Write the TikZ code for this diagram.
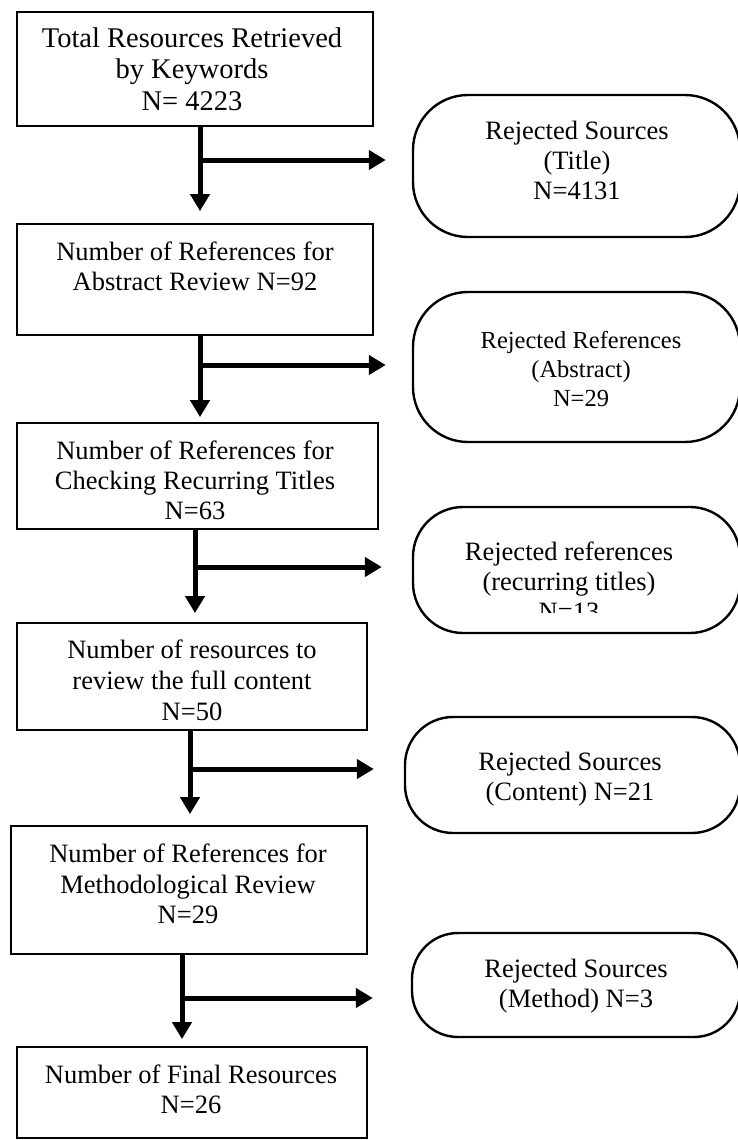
\documentclass[tikz,border=0pt]{standalone}
\usepackage{fontspec}
\setmainfont{Liberation Serif}
\usetikzlibrary{arrows.meta,calc}
\begin{document}
\begin{tikzpicture}[x=1pt,y=-1pt,
  box/.style={draw, line width=1.8pt, rectangle, inner sep=0pt},
  stad/.style={draw, line width=2.4pt, rectangle, inner sep=0pt, rounded corners=#1},
  txt/.style={anchor=north, align=center, inner sep=0pt, font=\fontsize{26.5}{30}\selectfont},
  flow/.style={line width=5pt, -{Triangle[length=17pt,width=19pt]}}]
\useasboundingbox (0,0) rectangle (738,1140);
\clip (0,0) rectangle (738,1140);
% process boxes
\node[box, minimum width=356pt, minimum height=114pt] (b1) at (195,69) {};
\node[box, minimum width=356pt, minimum height=111pt] (b2) at (195,279.5) {};
\node[box, minimum width=361pt, minimum height=106pt] (b3) at (197.5,476) {};
\node[box, minimum width=350pt, minimum height=107pt] (b4) at (192,676.5) {};
\node[box, minimum width=356pt, minimum height=128pt] (b5) at (189,890) {};
\node[box, minimum width=350pt, minimum height=91pt] (b6) at (192,1092.5) {};
% box texts
\node[txt, font=\fontsize{28.5}{31.5}\selectfont] (t1) at (192,27.5) {Total Resources Retrieved\\by Keywords\\N= 4223};
\node[txt] (t2) at (195,242) {Number of References for\\Abstract Review N=92};
\node[txt] (t3) at (195,441) {Number of References for\\Checking Recurring Titles\\N=63};
\node[txt, font=\fontsize{26.5}{30.8}\selectfont] (t4) at (192,640) {Number of resources to\\review the full content\\N=50};
\node[txt, font=\fontsize{26.5}{30.5}\selectfont] (t5) at (188,844) {Number of References for\\Methodological Review\\N=29};
\node[txt] (t6) at (191,1065) {Number of Final Resources\\N=26};
% rejection shapes
\node[stad=55pt, minimum width=327pt, minimum height=142pt] (s1) at (576.5,166) {};
\node[stad=55pt, minimum width=327pt, minimum height=150pt] (s2) at (576.5,367) {};
\node[stad=50pt, minimum width=327pt, minimum height=126pt] (s3) at (576.5,570) {};
\node[stad=48pt, minimum width=335pt, minimum height=116pt] (s4) at (572.5,775) {};
\node[stad=46pt, minimum width=328pt, minimum height=104pt] (s5) at (576,985) {};
% rejection texts
\node[txt] (u1) at (577,121) {Rejected Sources\\(Title)\\N=4131};
\node[txt, font=\fontsize{24.5}{29}\selectfont] (u2) at (581,331) {Rejected References\\(Abstract)\\N=29};
\begin{scope}
  \clip (400,500) rectangle (738,612);
  \node[txt] (u3) at (569,542) {Rejected references\\(recurring titles)\\N=13};
\end{scope}
\node[txt] (u4) at (570,752) {Rejected Sources\\(Content) N=21};
\node[txt] (u5) at (576,959) {Rejected Sources\\(Method) N=3};
% main flow arrows
\draw[flow, shorten >=12pt] ([xshift=5pt]b1.south) -- ([xshift=5pt]b1.south |- b2.north);
\draw[flow, shorten >=5pt] ([xshift=5pt]b2.south) -- ([xshift=5pt]b2.south |- b3.north);
\draw[flow, shorten >=9pt] ([xshift=-2.5pt]b3.south) -- ([xshift=-2.5pt]b3.south |- b4.north);
\draw[flow, shorten >=11pt] ([xshift=-2pt]b4.south) -- ([xshift=-2pt]b4.south |- b5.north);
\draw[flow, shorten >=7pt] ([xshift=-7pt]b5.south) -- ([xshift=-7pt]b5.south |- b6.north);
% branch points
\coordinate (j1) at (200,160);
\coordinate (j2) at (200,365);
\coordinate (j3) at (195,567);
\coordinate (j4) at (190,769);
\coordinate (j5) at (182,998);
% rejection arrows
\draw[flow, shorten >=26pt] ([xshift=-2.5pt]j1) -- (s1.west |- j1);
\draw[flow, shorten >=26pt] ([xshift=-2.5pt]j2) -- (s2.west |- j2);
\draw[flow, shorten >=30pt] ([xshift=-2.5pt]j3) -- (s3.west |- j3);
\draw[flow, shorten >=30pt] ([xshift=-2.5pt]j4) -- (s4.west |- j4);
\draw[flow, shorten >=38pt] ([xshift=-2.5pt]j5) -- (s5.west |- j5);
\end{tikzpicture}
\end{document}
